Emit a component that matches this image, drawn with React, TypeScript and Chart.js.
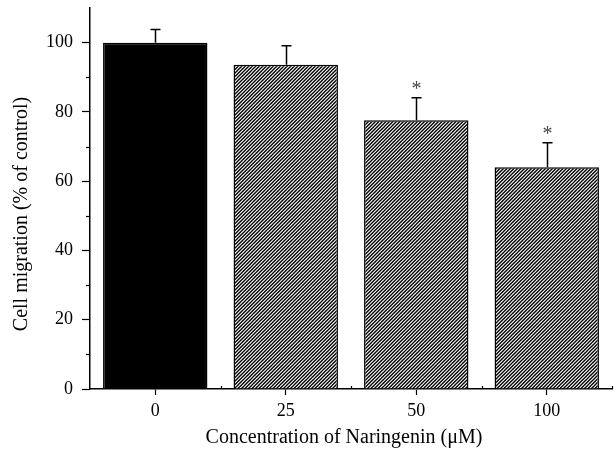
import React, { useEffect, useRef } from 'react';
import { Chart, registerables } from 'chart.js';

Chart.register(...registerables);

// ---- data ----
const categories = ['0', '25', '50', '100'];
const migration = [100, 93.6, 77.6, 64.0];
const errorSem = [3.8, 5.5, 6.5, 7.1];
const significance = ['', '', '*', '*'];
const barFill = ['solid', 'hatch', 'hatch', 'hatch'];
const minorYTicks = [10, 30, 50, 70, 90];
const yMax = 110;
const yStep = 20;
const xTitle = 'Concentration of Naringenin (\u03bcM)';
const yTitle = 'Cell migration (% of control)';

const FONT = "'Liberation Serif', 'Times New Roman', serif";

function makeHatch(): CanvasPattern | string {
  const c = document.createElement('canvas');
  c.width = 7;
  c.height = 7;
  const g = c.getContext('2d');
  if (!g) return '#777';
  g.fillStyle = '#fff';
  g.fillRect(0, 0, 7, 7);
  g.strokeStyle = '#000';
  g.lineWidth = 1.35;
  for (const d of [-3.5, 0, 3.5, 7, 10.5, 14]) {
    g.beginPath();
    g.moveTo(-2, d + 2);
    g.lineTo(9, d - 9);
    g.stroke();
  }
  const p = g.createPattern(c, 'repeat');
  return p || '#777';
}

const decorPlugin = {
  id: 'decor',
  afterDraw(chart: any) {
    const { ctx, scales, chartArea } = chart;
    const x = scales.x;
    const y = scales.y;
    ctx.save();
    ctx.strokeStyle = '#000';
    ctx.fillStyle = '#000';

    // minor y ticks (outside, short)
    ctx.lineWidth = 1.2;
    for (const v of minorYTicks) {
      const py = Math.round(y.getPixelForValue(v)) + 0.5;
      ctx.beginPath();
      ctx.moveTo(chartArea.left - 4, py);
      ctx.lineTo(chartArea.left, py);
      ctx.stroke();
    }

    // small upward ticks at category boundaries
    for (let i = 0; i < categories.length; i++) {
      const px = Math.round(x.getPixelForValue(i + 0.5)) + 0.5;
      ctx.beginPath();
      ctx.moveTo(px, chartArea.bottom);
      ctx.lineTo(px, chartArea.bottom - 3);
      ctx.stroke();
    }

    // error bars (upper whisker only) and significance marks
    ctx.lineWidth = 1.5;
    for (let i = 0; i < migration.length; i++) {
      const px = Math.round(x.getPixelForValue(i)) + 0.5;
      const yBar = y.getPixelForValue(migration[i]);
      const yTop = y.getPixelForValue(migration[i] + errorSem[i]);
      ctx.beginPath();
      ctx.moveTo(px, yBar);
      ctx.lineTo(px, yTop);
      ctx.moveTo(px - 5, yTop);
      ctx.lineTo(px + 5, yTop);
      ctx.stroke();
      if (significance[i]) {
        ctx.save();
        ctx.fillStyle = '#444';
        ctx.font = `20px ${FONT}`;
        ctx.textAlign = 'center';
        ctx.textBaseline = 'alphabetic';
        ctx.fillText(significance[i], px, yTop - 3);
        ctx.restore();
      }
    }

    // axis titles
    ctx.fillStyle = '#000';
    ctx.font = `20px ${FONT}`;
    ctx.textAlign = 'center';
    ctx.textBaseline = 'middle';
    ctx.fillText(xTitle, 344, 438);
    ctx.save();
    ctx.translate(22, 214);
    ctx.rotate(-Math.PI / 2);
    ctx.fillText(yTitle, 0, 0);
    ctx.restore();

    ctx.restore();
  },
};

export default function App() {
  const canvasRef = useRef<HTMLCanvasElement | null>(null);

  useEffect(() => {
    const canvas = canvasRef.current;
    if (!canvas) return;
    const hatch = makeHatch();
    const chart = new Chart(canvas, {
      type: 'bar',
      data: {
        labels: categories,
        datasets: [
          {
            data: migration,
            backgroundColor: barFill.map((f) => (f === 'solid' ? '#000' : hatch)) as any,
            borderColor: '#000',
            borderWidth: 1.5,
            barPercentage: 0.8,
            categoryPercentage: 1,
          },
        ],
      },
      options: {
        responsive: false,
        animation: false,
        devicePixelRatio: 1,
        layout: { padding: { top: 8, right: 3, left: 12, bottom: 0 } },
        plugins: {
          legend: { display: false },
          tooltip: { enabled: false },
          title: { display: false },
        },
        scales: {
          x: {
            type: 'category',
            offset: true,
            grid: {
              display: true,
              drawOnChartArea: false,
              drawTicks: true,
              tickLength: 6,
              offset: false,
              color: '#000',
              tickColor: '#000',
              tickWidth: 1.2,
            },
            border: { display: true, color: '#000', width: 1.5 },
            ticks: {
              color: '#000',
              font: { family: FONT, size: 18 },
              padding: 5,
              maxRotation: 0,
              autoSkip: false,
            },
            afterFit: (s: any) => {
              s.height = 68;
              s.paddingLeft = 0;
              s.paddingRight = 0;
            },
          },
          y: {
            type: 'linear',
            min: 0,
            max: yMax,
            ticks: {
              stepSize: yStep,
              includeBounds: false,
              color: '#000',
              font: { family: FONT, size: 18 },
              padding: 9,
            },
            grid: {
              display: true,
              drawOnChartArea: false,
              drawTicks: true,
              tickLength: 8,
              color: '#000',
              tickColor: '#000',
              tickWidth: 1.2,
            },
            border: { display: true, color: '#000', width: 1.5 },
            afterFit: (s: any) => {
              s.width = 78;
              s.paddingTop = 0;
              s.paddingBottom = 0;
            },
          },
        },
      },
      plugins: [decorPlugin],
    });
    return () => chart.destroy();
  }, []);

  return (
    <div style={{ position: 'fixed', left: 0, top: 0, width: 615, height: 457, background: '#fff' }}>
      <canvas ref={canvasRef} width={615} height={457} style={{ display: 'block' }} />
    </div>
  );
}
